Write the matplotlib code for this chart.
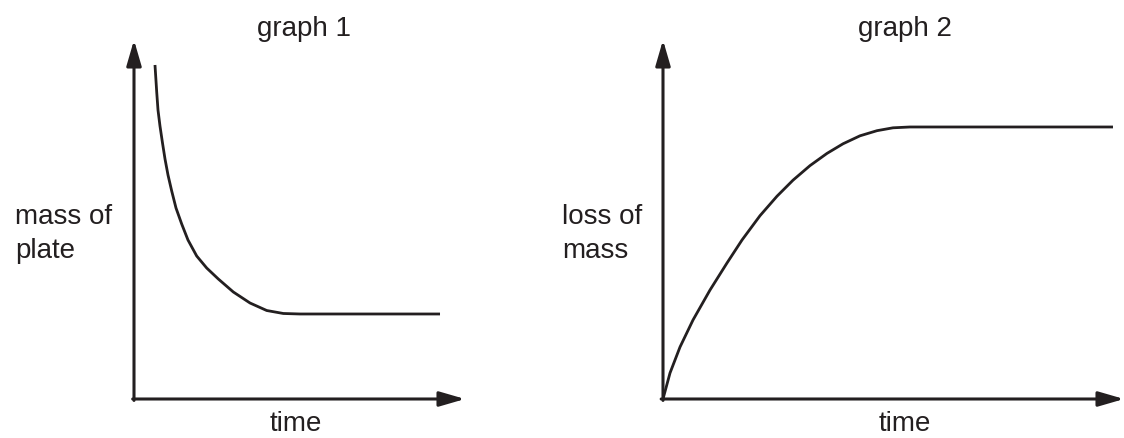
import matplotlib
matplotlib.use("Agg")
import matplotlib.pyplot as plt

# ---- data (arbitrary units) ----
g1_time = [0.634, 0.686, 0.725, 0.785, 0.861, 0.937, 1.027, 1.139, 1.269, 1.441,
           1.631, 1.894, 2.196, 2.547, 3.000, 3.505, 4.009, 4.511, 5.015, 9.245]
g1_mass = [9.304, 8.552, 8.050, 7.604, 7.131, 6.685, 6.240, 5.794, 5.320, 4.875,
           4.429, 3.983, 3.649, 3.343, 2.981, 2.674, 2.465, 2.382, 2.368, 2.368]

g2_time = [0.000, 0.152, 0.369, 0.651, 1.020, 1.388, 1.714, 2.104, 2.473, 2.820,
           3.189, 3.557, 3.905, 4.273, 4.642, 4.989, 5.358, 9.761]
g2_loss = [0.000, 0.724, 1.448, 2.201, 3.036, 3.788, 4.429, 5.106, 5.649, 6.095,
           6.501, 6.841, 7.109, 7.331, 7.474, 7.554, 7.577, 7.577]

titles = ["graph 1", "graph 2"]
ylabels = ["mass of\nplate", "loss of\nmass"]
xlabel = "time"

INK = "#231f20"
W, H = 1124, 438
plt.rcParams['font.family'] = ['Liberation Sans', 'DejaVu Sans']

fig = plt.figure(figsize=(W / 100, H / 100), dpi=100)

def fx(px):
    return px / W

def fy(py):
    return 1 - py / H

# axes placement: origin / arrow tips in pixels
layout = [
    dict(x0=134, x1=465, y0=399, y1=40, tx=304, xl=296, lx=15, curve=(g1_time, g1_mass)),
    dict(x0=663, x1=1124, y0=399, y1=40, tx=905, xl=905, lx=562, curve=(g2_time, g2_loss)),
]

for i, L in enumerate(layout):
    ax = fig.add_axes([fx(L['x0']), fy(L['y0']), fx(L['x1'] - L['x0']),
                       (L['y0'] - L['y1']) / H])
    ax.set_xlim(0, 10)
    ax.set_ylim(0, 10)
    ax.set_axis_off()
    xs, ys = L['curve']
    ax.plot(xs, ys, color=INK, lw=2.0, solid_joinstyle='round',
            solid_capstyle='butt', clip_on=False)
    arrow = dict(arrowstyle='-|>,head_length=1.55,head_width=0.45', lw=2.2,
                 color=INK, shrinkA=0, shrinkB=0, mutation_scale=10)
    ax.annotate('', xy=(0, 1), xytext=(0, -0.004), xycoords='axes fraction',
                arrowprops=arrow, annotation_clip=False)
    ax.annotate('', xy=(1, 0), xytext=(-0.004, 0), xycoords='axes fraction',
                arrowprops=arrow, annotation_clip=False)

    fig.text(fx(L['tx']), fy(36), titles[i], ha='center', va='baseline',
             fontsize=20, color=INK)
    fig.text(fx(L['xl']), fy(431), xlabel, ha='center', va='baseline',
             fontsize=20, color=INK)
    line1, line2 = ylabels[i].split("\n")
    fig.text(fx(L['lx']), fy(224), line1, ha='left', va='baseline',
             fontsize=20, color=INK)
    fig.text(fx(L['lx']), fy(258), line2, ha='left', va='baseline',
             fontsize=20, color=INK)

fig.savefig("out.png", dpi=100, facecolor="white")
